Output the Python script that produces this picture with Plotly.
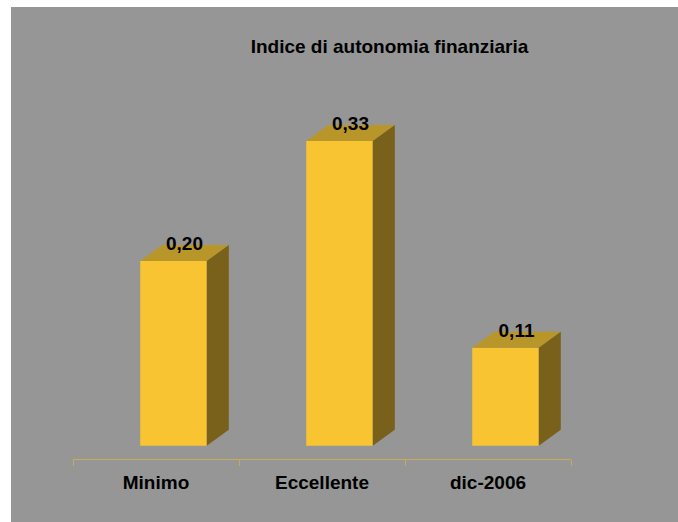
import plotly.graph_objects as go

# data
categories = ["Minimo", "Eccellente", "dic-2006"]
values = [0.20, 0.33, 0.106]
title_text = "Indice di autonomia finanziaria"

# styling
FONT = "Arial, Liberation Sans, sans-serif"
GRAY = "#969696"
FRONT = "#F8C432"
TOP = "#B8962A"
SIDE = "#7A611B"
AXIS = "#C9AA55"

bar_w = 0.401      # front face width (category units)
shift = 0.1055     # bars pushed back into the depth
dx = 0.1326        # depth offset, x
dy = 0.0173        # depth offset, y

fig = go.Figure()

xs = list(range(len(categories)))
fig.add_trace(go.Bar(
    x=xs, y=values, width=bar_w, offset=shift - bar_w / 2,
    marker=dict(color=FRONT, line=dict(width=0)),
    hoverinfo="skip", showlegend=False,
))

for i, v in zip(xs, values):
    xl = i + shift - bar_w / 2
    xr = i + shift + bar_w / 2
    # top face
    fig.add_trace(go.Scatter(
        x=[xl, xr, xr + dx, xl + dx, xl], y=[v, v, v + dy, v + dy, v],
        mode="lines", fill="toself", fillcolor=TOP, line=dict(width=0, color=TOP),
        hoverinfo="skip", showlegend=False,
    ))
    # side face
    fig.add_trace(go.Scatter(
        x=[xr, xr + dx, xr + dx, xr, xr], y=[0, dy, v + dy, v, 0],
        mode="lines", fill="toself", fillcolor=SIDE, line=dict(width=0, color=SIDE),
        hoverinfo="skip", showlegend=False,
    ))

# value labels
fig.add_trace(go.Scatter(
    x=[i + shift + dx / 2 for i in xs],
    y=[v + dy for v in values],
    text=[f"{v:.2f}".replace(".", ",") for v in values],
    mode="text", textposition="middle center",
    textfont=dict(family=FONT, size=19, color="black", weight="bold"),
    hoverinfo="skip", showlegend=False, cliponaxis=False,
))

L, R, T, B = 73, 107, 60, 63
W, H = 678, 522
pw, ph = W - L - R, H - T - B

# white strips left and top, the rest of the page is gray
px = lambda p: (p - L) / pw
py = lambda p: (H - B - p) / ph

fig.update_layout(
    width=W, height=H,
    margin=dict(l=L, r=R, t=T, b=B),
    paper_bgcolor=GRAY,
    plot_bgcolor=GRAY,
    title=dict(
        text=title_text, x=389.5 / W, xanchor="center", y=1 - 46.7 / H, yanchor="middle",
        font=dict(family=FONT, size=19, color="black", weight="bold"),
    ),
    xaxis=dict(
        range=[-0.5, 2.5], tickvals=xs, ticktext=categories,
        ticks="", showgrid=False, zeroline=False,
        showline=True, linecolor=AXIS, linewidth=1,
        minor=dict(tickvals=[-0.5, 0.5, 1.5, 2.5], ticks="outside", ticklen=6,
                   tickcolor=AXIS, tickwidth=1, showgrid=False),
        tickfont=dict(family=FONT, size=19, color="black", weight="bold"),
        ticklabelstandoff=6,
        fixedrange=True,
    ),
    yaxis=dict(
        range=[-0.0144, -0.0144 + ph / 923.5], visible=False, fixedrange=True,
    ),
    shapes=[
        dict(type="rect", xref="paper", yref="paper", layer="above",
             x0=px(-5), x1=px(11), y0=py(H + 5), y1=py(-5),
             fillcolor="white", line=dict(width=0)),
        dict(type="rect", xref="paper", yref="paper", layer="above",
             x0=px(-5), x1=px(W + 5), y0=py(7), y1=py(-5),
             fillcolor="white", line=dict(width=0)),
    ],
)

fig.write_html(
    "out.html",
    config={"displayModeBar": False},
    post_script=(
        "document.body.style.margin='0';"
        "document.body.style.overflow='hidden';"
        "document.documentElement.style.overflow='hidden';"
        f"document.documentElement.style.background='{GRAY}';"
        f"document.body.style.background='{GRAY}';"
    ),
)
